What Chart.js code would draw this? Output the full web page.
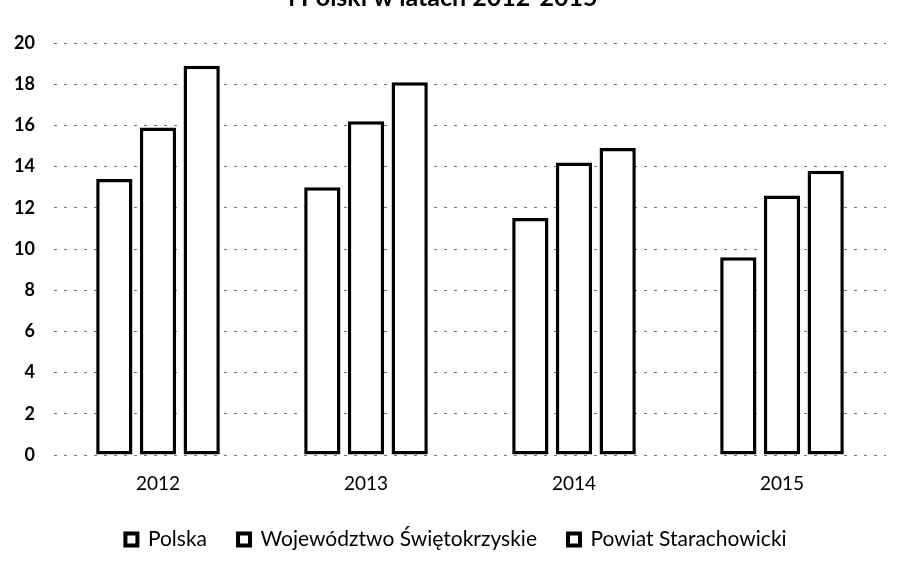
<!DOCTYPE html>
<html><head><meta charset="utf-8">
<script src="https://cdn.jsdelivr.net/npm/chart.js@4"></script>
<style>
html,body{margin:0;padding:0;background:#fff;}
#wrap{width:906px;height:569px;overflow:hidden;position:relative;}
#box{position:absolute;left:0;top:-17px;width:906px;height:577px;}
</style></head><body>
<div id="wrap"><div id="box"><canvas id="c"></canvas></div></div>
<script>
const categories = ['2012', '2013', '2014', '2015'];
const seriesNames = ['Polska', 'Województwo Świętokrzyskie', 'Powiat Starachowicki'];
const polska = [13.4, 13.0, 11.5, 9.6];
const wojewodztwo = [15.9, 16.2, 14.2, 12.6];
const powiat = [18.9, 18.1, 14.9, 13.8];
const yTicks = [0, 2, 4, 6, 8, 10, 12, 14, 16, 18, 20];
const titleText = 'i Polski w latach 2012-2015';

const font = "Lato, 'Open Sans', sans-serif";
const ds = (label, data) => ({
  label, data,
  backgroundColor: '#ffffff',
  borderColor: '#000000',
  borderWidth: 3.5,
  borderSkipped: false,
  barPercentage: 0.83,
  categoryPercentage: 0.63
});

const legendShift = {
  id: 'legendShift',
  afterLayout(chart) {
    if (chart.legend) { chart.legend.left += 13; chart.legend.right += 13; }
  }
};

new Chart(document.getElementById('c'), {
  type: 'bar',
  data: {
    labels: categories,
    datasets: [ds(seriesNames[0], polska), ds(seriesNames[1], wojewodztwo), ds(seriesNames[2], powiat)]
  },
  plugins: [legendShift],
  options: {
    responsive: true,
    maintainAspectRatio: false,
    animation: false,
    layout: { padding: { left: 0, right: 20, top: 0, bottom: 0 } },
    plugins: {
      title: {
        display: true, text: titleText, color: '#000',
        font: { family: font, size: 25, weight: 'bold' },
        padding: { top: 0, bottom: 30 }
      },
      legend: {
        position: 'bottom',
        labels: {
          color: '#000', boxWidth: 12, boxHeight: 12, padding: 31,
          font: { family: font, size: 21 },
          generateLabels: (chart) => chart.data.datasets.map((d, i) => ({
            text: d.label, fillStyle: '#fff', strokeStyle: '#000', lineWidth: 4,
            datasetIndex: i, hidden: false
          }))
        }
      },
      tooltip: { enabled: false }
    },
    scales: {
      x: {
        grid: { display: false },
        border: { display: false },
        ticks: { color: '#000', font: { family: font, size: 19 }, padding: 9 },
        afterFit: (s) => { s.height = 43; }
      },
      y: {
        min: 0, max: 20,
        afterBuildTicks: (s) => { s.ticks = yTicks.map(v => ({ value: v })); },
        grid: { color: 'rgba(0,0,0,0.55)', lineWidth: 1, drawTicks: false },
        border: { display: false, dash: [3, 7] },
        ticks: { color: '#000', font: { family: font, size: 18, weight: 'bold' }, padding: 19 },
        afterFit: (s) => { s.width = 54; }
      }
    }
  }
});
</script>
</body></html>
